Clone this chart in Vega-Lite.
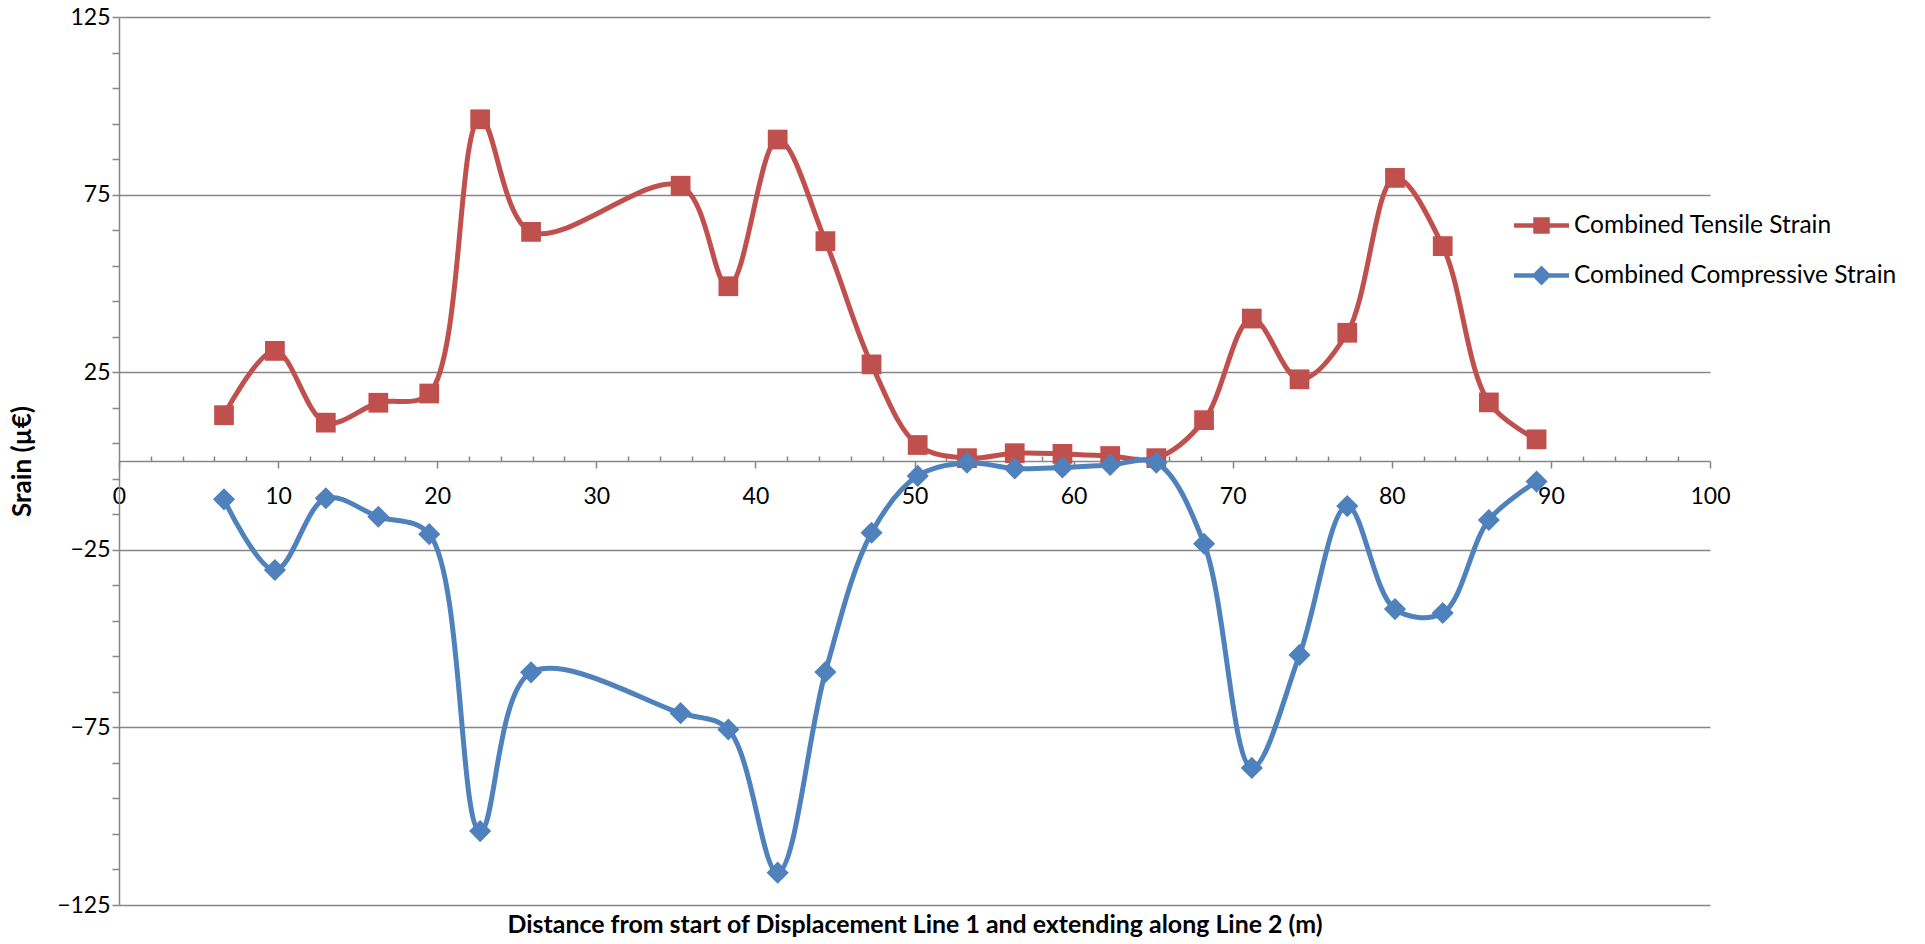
{
  "$schema": "https://vega.github.io/schema/vega-lite/v6.json",
  "width": 1591,
  "height": 888,
  "autosize": {"type": "none"},
  "padding": {"left": 119, "top": 17, "right": 215, "bottom": 39},
  "background": "white",
  "config": {"font": "Lato", "view": {"stroke": null}},
  "data": {
    "values": [
      {"d": 6.6, "s": 12.9, "series": "Combined Tensile Strain"},
      {"d": 9.8, "s": 31.0, "series": "Combined Tensile Strain"},
      {"d": 13.0, "s": 10.8, "series": "Combined Tensile Strain"},
      {"d": 16.3, "s": 16.4, "series": "Combined Tensile Strain"},
      {"d": 19.5, "s": 19.0, "series": "Combined Tensile Strain"},
      {"d": 22.7, "s": 96.2, "series": "Combined Tensile Strain"},
      {"d": 25.9, "s": 64.5, "series": "Combined Tensile Strain"},
      {"d": 35.3, "s": 77.5, "series": "Combined Tensile Strain"},
      {"d": 38.3, "s": 49.2, "series": "Combined Tensile Strain"},
      {"d": 41.4, "s": 90.5, "series": "Combined Tensile Strain"},
      {"d": 44.4, "s": 61.9, "series": "Combined Tensile Strain"},
      {"d": 47.3, "s": 27.2, "series": "Combined Tensile Strain"},
      {"d": 50.2, "s": 4.5, "series": "Combined Tensile Strain"},
      {"d": 53.3, "s": 0.8, "series": "Combined Tensile Strain"},
      {"d": 56.3, "s": 2.2, "series": "Combined Tensile Strain"},
      {"d": 59.3, "s": 2.0, "series": "Combined Tensile Strain"},
      {"d": 62.3, "s": 1.4, "series": "Combined Tensile Strain"},
      {"d": 65.2, "s": 0.8, "series": "Combined Tensile Strain"},
      {"d": 68.2, "s": 11.5, "series": "Combined Tensile Strain"},
      {"d": 71.2, "s": 40.1, "series": "Combined Tensile Strain"},
      {"d": 74.2, "s": 23.0, "series": "Combined Tensile Strain"},
      {"d": 77.2, "s": 36.1, "series": "Combined Tensile Strain"},
      {"d": 80.2, "s": 79.7, "series": "Combined Tensile Strain"},
      {"d": 83.2, "s": 60.5, "series": "Combined Tensile Strain"},
      {"d": 86.1, "s": 16.5, "series": "Combined Tensile Strain"},
      {"d": 89.1, "s": 6.1, "series": "Combined Tensile Strain"},
      {"d": 6.6, "s": -10.8, "series": "Combined Compressive Strain"},
      {"d": 9.8, "s": -30.7, "series": "Combined Compressive Strain"},
      {"d": 13.0, "s": -10.5, "series": "Combined Compressive Strain"},
      {"d": 16.3, "s": -15.7, "series": "Combined Compressive Strain"},
      {"d": 19.5, "s": -20.6, "series": "Combined Compressive Strain"},
      {"d": 22.7, "s": -104.2, "series": "Combined Compressive Strain"},
      {"d": 25.9, "s": -59.5, "series": "Combined Compressive Strain"},
      {"d": 35.3, "s": -71.0, "series": "Combined Compressive Strain"},
      {"d": 38.3, "s": -75.6, "series": "Combined Compressive Strain"},
      {"d": 41.4, "s": -115.9, "series": "Combined Compressive Strain"},
      {"d": 44.4, "s": -59.4, "series": "Combined Compressive Strain"},
      {"d": 47.3, "s": -20.2, "series": "Combined Compressive Strain"},
      {"d": 50.2, "s": -4.2, "series": "Combined Compressive Strain"},
      {"d": 53.3, "s": -0.5, "series": "Combined Compressive Strain"},
      {"d": 56.3, "s": -2.1, "series": "Combined Compressive Strain"},
      {"d": 59.3, "s": -1.8, "series": "Combined Compressive Strain"},
      {"d": 62.3, "s": -1.1, "series": "Combined Compressive Strain"},
      {"d": 65.2, "s": -0.5, "series": "Combined Compressive Strain"},
      {"d": 68.2, "s": -23.3, "series": "Combined Compressive Strain"},
      {"d": 71.2, "s": -86.4, "series": "Combined Compressive Strain"},
      {"d": 74.2, "s": -54.6, "series": "Combined Compressive Strain"},
      {"d": 77.2, "s": -12.7, "series": "Combined Compressive Strain"},
      {"d": 80.2, "s": -41.7, "series": "Combined Compressive Strain"},
      {"d": 83.2, "s": -42.8, "series": "Combined Compressive Strain"},
      {"d": 86.1, "s": -16.6, "series": "Combined Compressive Strain"},
      {"d": 89.1, "s": -5.8, "series": "Combined Compressive Strain"}
    ]
  },
  "encoding": {
    "x": {
      "field": "d",
      "type": "quantitative",
      "scale": {"domain": [0, 100], "nice": false, "zero": false},
      "axis": {
        "orient": "bottom",
        "offset": -444,
        "values": [0,2,4,6,8,10,12,14,16,18,20,22,24,26,28,30,32,34,36,38,40,42,44,46,48,50,52,54,56,58,60,62,64,66,68,70,72,74,76,78,80,82,84,86,88,90,92,94,96,98,100],
        "labelExpr": "datum.value % 10 == 0 ? datum.label : ''",
        "tickSize": {"condition": {"test": "datum.value % 10 == 0", "value": 7}, "value": -5},
        "domainColor": "#868686",
        "domainWidth": 1.5,
        "tickColor": "#868686",
        "tickWidth": 1.5,
        "grid": false,
        "labelFont": "Lato",
        "labelFontSize": 23,
        "labelColor": "#000000",
        "labelPadding": 17,
        "labelFlush": false,
        "labelOverlap": false,
        "title": "Distance from start of Displacement Line 1 and extending along Line 2 (m)",
        "titleY": 464,
        "titleBaseline": "middle",
        "titleFont": "Lato",
        "titleFontWeight": "bold",
        "titleFontSize": 24.9,
        "titleColor": "#000000"
      }
    },
    "y": {
      "field": "s",
      "type": "quantitative",
      "scale": {"domain": [-125, 125], "nice": false, "zero": false},
      "axis": {
        "values": [125,115,105,95,85,75,65,55,45,35,25,15,5,-5,-15,-25,-35,-45,-55,-65,-75,-85,-95,-105,-115,-125],
        "labelExpr": "abs(datum.value) % 50 == 25 ? datum.label : ''",
        "grid": true,
        "gridOpacity": {"condition": {"test": "abs(datum.value) % 50 == 25", "value": 1}, "value": 0},
        "gridColor": "#868686",
        "gridWidth": 1.5,
        "tickSize": 7,
        "tickColor": "#868686",
        "tickWidth": 1.5,
        "domainColor": "#868686",
        "domainWidth": 1.5,
        "labelFont": "Lato",
        "labelFontSize": 23,
        "labelColor": "#000000",
        "labelPadding": 2,
        "labelOverlap": false,
        "title": "Srain (µ€)",
        "titleX": -97,
        "titleY": 444,
        "titleAngle": -90,
        "titleAlign": "center",
        "titleBaseline": "middle",
        "titleFont": "Lato",
        "titleFontWeight": "bold",
        "titleFontSize": 26,
        "titleColor": "#000000"
      }
    }
  },
  "layer": [
    {
      "transform": [{"filter": "datum.series == 'Combined Tensile Strain'"}],
      "mark": {"type": "line", "interpolate": "catmull-rom", "strokeWidth": 5, "strokeCap": "round", "strokeJoin": "round", "color": "#C0504D"}
    },
    {
      "transform": [{"filter": "datum.series == 'Combined Tensile Strain'"}],
      "mark": {"type": "point", "shape": "square", "filled": true, "opacity": 1, "size": 390, "color": "#C0504D"}
    },
    {
      "transform": [{"filter": "datum.series == 'Combined Compressive Strain'"}],
      "mark": {"type": "line", "interpolate": "catmull-rom", "strokeWidth": 5, "strokeCap": "round", "strokeJoin": "round", "color": "#4F81BD"}
    },
    {
      "transform": [{"filter": "datum.series == 'Combined Compressive Strain'"}],
      "mark": {"type": "point", "shape": "diamond", "filled": true, "opacity": 1, "size": 490, "color": "#4F81BD"}
    },
    {
      "mark": {"type": "point", "filled": true, "opacity": 0, "size": 3025},
      "encoding": {
        "color": {
          "field": "series",
          "type": "nominal",
          "scale": {"domain": ["Combined Tensile Strain", "Combined Compressive Strain"], "range": ["#C0504D", "#4F81BD"]},
          "legend": {
            "orient": "none",
            "legendX": 1394,
            "legendY": 180,
            "title": null,
            "symbolOpacity": 1,
            "symbolSize": 3025,
            "labelFont": "Lato",
            "labelFontSize": 24.5,
            "labelColor": "#000000",
            "labelOffset": 4,
            "rowPadding": 10,
            "labelLimit": 600
          }
        },
        "shape": {
          "field": "series",
          "type": "nominal",
          "scale": {
            "domain": ["Combined Tensile Strain", "Combined Compressive Strain"],
            "range": [
              "M-1,-0.08H1V0.08H-1Z M-0.3,-0.3H0.3V0.3H-0.3Z",
              "M-1,-0.08H1V0.08H-1Z M0,-0.36L0.36,0L0,0.36L-0.36,0Z"
            ]
          },
          "legend": {
            "orient": "none",
            "legendX": 1394,
            "legendY": 180,
            "title": null,
            "symbolOpacity": 1,
            "symbolSize": 3025,
            "labelFont": "Lato",
            "labelFontSize": 24.5,
            "labelColor": "#000000",
            "labelOffset": 4,
            "rowPadding": 10,
            "labelLimit": 600
          }
        }
      }
    }
  ]
}
